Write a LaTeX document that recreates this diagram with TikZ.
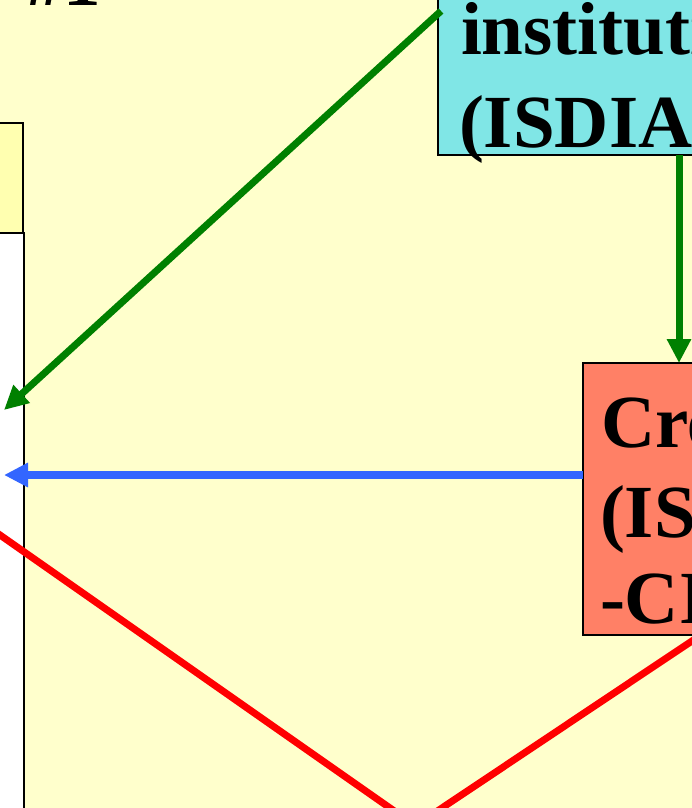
\documentclass[tikz,border=0pt]{standalone}
\usepackage{fontspec}
\setmainfont{Liberation Serif}
\usetikzlibrary{arrows.meta}
\definecolor{bgyellow}{HTML}{FFFFCC}
\definecolor{paleyellow}{HTML}{FFFFB0}
\definecolor{cyanfill}{HTML}{80E6E6}
\definecolor{salmonfill}{HTML}{FF8066}
\definecolor{arrowgreen}{HTML}{008000}
\definecolor{arrowblue}{HTML}{3366FF}
\definecolor{linered}{HTML}{FF0000}
\begin{document}
\begin{tikzpicture}[x=1pt,y=-1pt,
  boxline/.style={draw=black, line width=2pt, inner sep=0pt, outer sep=0pt},
  bigtext/.style={font=\fontsize{75}{88}\selectfont\bfseries, inner sep=0pt, outer sep=0pt, anchor=base west},
  greenarrow/.style={draw=arrowgreen, line width=7pt, -{Triangle[length=24pt,width=23pt]}},
  bluearrow/.style={draw=arrowblue, line width=8pt, -{Triangle[length=24pt,width=23pt]}},
  redline/.style={draw=linered, line width=7pt}]
\useasboundingbox (0,0) rectangle (692,808);
\clip (0,0) rectangle (692,808);
\fill[bgyellow] (0,0) rectangle (692,808);
% left boxes
\node[boxline, fill=white, anchor=north east, minimum width=100pt, minimum height=700pt] (whitebox) at (24,233) {};
\node[boxline, fill=paleyellow, anchor=south east, minimum width=100pt, minimum height=110pt] (yellowbox) at (23,233) {};
% top-left title
\node[bigtext, anchor=base east] (member) at (101,6) {Member \#1};
% cyan box
\node[boxline, fill=cyanfill, anchor=south west, minimum width=400pt, minimum height=220pt] (isdia) at (438,155) {};
\node[bigtext] (isdiaA) at (461,55) {institution};
\node[bigtext] (isdiaB) at (459,147) {(ISDIA)};
% salmon box
\node[boxline, fill=salmonfill, anchor=north west, minimum width=300pt, minimum height=272pt] (ci) at (583,363) {};
\node[bigtext] (ciA) at (601,447) {Credit};
\node[bigtext] (ciB) at (600,537) {(ISDIA};
\node[bigtext] (ciC) at (600,623) {-CI)};
% connectors
\coordinate (g1s) at (441,11);
\coordinate (g1e) at (4,410);
\draw[greenarrow] (g1s) -- (g1e);
\coordinate (g2s) at (679,155);
\draw[greenarrow] (g2s) -- (g2s |- ci.north west);
\coordinate (b1e) at (4,475);
\draw[bluearrow] (ci.north west |- b1e) -- (b1e);
\coordinate (r1a) at (-50,500);
\coordinate (r1b) at (420,829);
\draw[redline] (r1a) -- (r1b);
\coordinate (r2a) at (700,635.6);
\coordinate (r2b) at (400,836);
\draw[redline] (r2a) -- (r2b);
\end{tikzpicture}
\end{document}
